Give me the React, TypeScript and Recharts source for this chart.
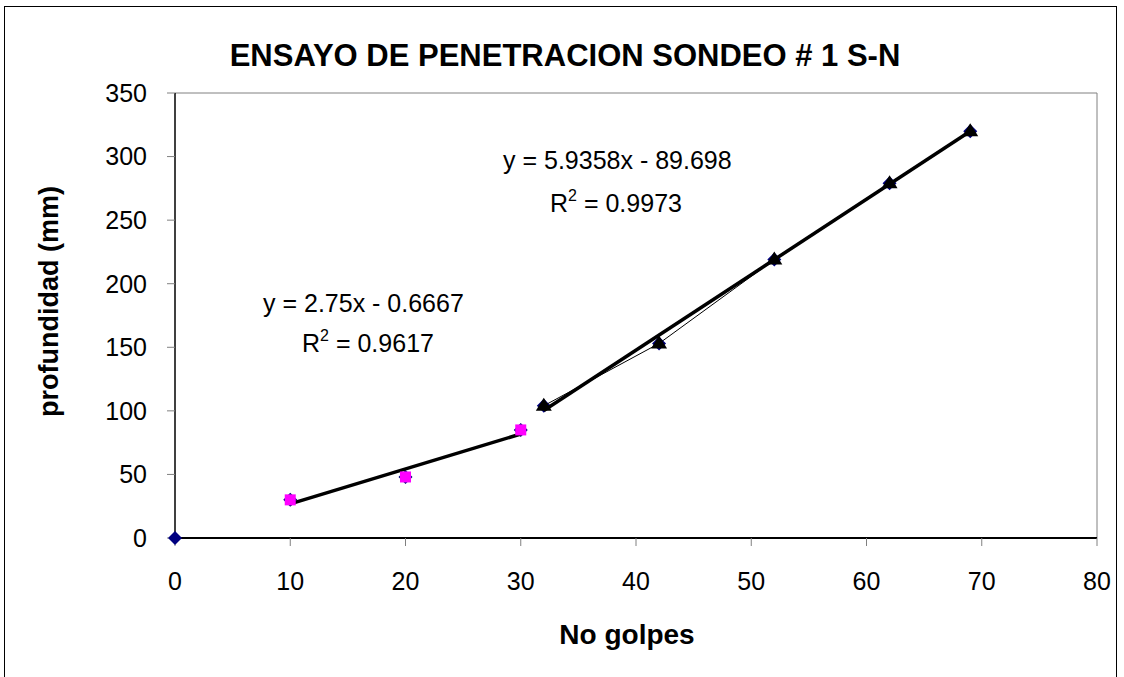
import React from "react";
import {
  ScatterChart,
  Scatter,
  XAxis,
  YAxis,
  ReferenceLine,
} from "recharts";

// all readings (navy diamonds)
const allPoints = [
  { x: 0, y: 0 },
  { x: 10, y: 30 },
  { x: 20, y: 48 },
  { x: 30, y: 85 },
  { x: 32, y: 104 },
  { x: 42, y: 153 },
  { x: 52, y: 219 },
  { x: 62, y: 279 },
  { x: 69, y: 320 },
];

// first stretch (magenta squares)
const tramo1 = [
  { x: 10, y: 30 },
  { x: 20, y: 48 },
  { x: 30, y: 85 },
];

// second stretch (black triangles, thin line)
const tramo2 = [
  { x: 32, y: 104 },
  { x: 42, y: 153 },
  { x: 52, y: 219 },
  { x: 62, y: 279 },
  { x: 69, y: 320 },
];

// trendline coefficients as printed on the chart
const fit1 = { m: 2.75, b: -0.6667, r2: "0.9617", label: "y = 2.75x - 0.6667" };
const fit2 = { m: 5.9358, b: -89.698, r2: "0.9973", label: "y = 5.9358x - 89.698" };

const xTicks = [0, 10, 20, 30, 40, 50, 60, 70, 80];
const yTicks = [0, 50, 100, 150, 200, 250, 300, 350];

const trend = (pts: { x: number }[], f: { m: number; b: number }) => {
  const xs = pts.map((p) => p.x);
  const x0 = Math.min(...xs);
  const x1 = Math.max(...xs);
  return [
    { x: x0, y: f.m * x0 + f.b },
    { x: x1, y: f.m * x1 + f.b },
  ];
};

const FONT = '"Liberation Sans", Arial, sans-serif';

const Diamond = (p: any) => {
  const { cx, cy } = p;
  const r = 7;
  return (
    <polygon
      points={`${cx},${cy - r} ${cx + r},${cy} ${cx},${cy + r} ${cx - r},${cy}`}
      fill="#000080"
    />
  );
};

const Square = (p: any) => {
  const { cx, cy } = p;
  const s = 11;
  return <rect x={cx - s / 2} y={cy - s / 2} width={s} height={s} fill="#ff00ff" />;
};

const Triangle = (p: any) => {
  const { cx, cy } = p;
  return (
    <polygon
      points={`${cx},${cy - 8} ${cx + 8},${cy + 5} ${cx - 8},${cy + 5}`}
      fill="#000"
    />
  );
};

const NoMark = () => <g />;

const sup = { fontSize: 16, position: "relative" as const, top: -11 };

export default function App() {
  const textBase: React.CSSProperties = {
    position: "absolute",
    fontFamily: FONT,
    color: "#000",
    whiteSpace: "nowrap",
  };

  return (
    <div style={{ position: "absolute", left: 0, top: 0, width: 1124, height: 677, background: "#fff", overflow: "hidden" }}>
      <div
        style={{
          position: "absolute",
          left: 4,
          top: 6,
          width: 1111,
          height: 700,
          border: "1px solid #000",
        }}
      />
      <ScatterChart
        width={1124}
        height={677}
        margin={{ top: 93, right: 27, bottom: 89, left: 75 }}
        style={{ position: "absolute", left: 0, top: 0 }}
      >
        <XAxis
          type="number"
          dataKey="x"
          domain={[0, 80]}
          ticks={xTicks}
          interval={0}
          height={50}
          tickSize={8}
          tickMargin={26}
          axisLine={{ stroke: "#000", strokeWidth: 2 }}
          tickLine={{ stroke: "#808080" }}
          tick={{ fill: "#000", fontSize: 25, fontFamily: FONT }}
        />
        <YAxis
          type="number"
          dataKey="y"
          domain={[0, 350]}
          ticks={yTicks}
          interval={0}
          width={100}
          tickSize={8}
          tickMargin={20}
          axisLine={{ stroke: "#000", strokeWidth: 1.5 }}
          tickLine={{ stroke: "#808080" }}
          tick={{ fill: "#000", fontSize: 25, fontFamily: FONT }}
        />
        <ReferenceLine y={350} stroke="#808080" strokeWidth={1} />
        <ReferenceLine x={80} stroke="#808080" strokeWidth={1} />
        <Scatter data={allPoints} shape={Diamond} isAnimationActive={false} />
        <Scatter
          data={trend(tramo1, fit1)}
          shape={NoMark}
          line={{ stroke: "#000", strokeWidth: 3.5 }}
          isAnimationActive={false}
        />
        <Scatter
          data={trend(tramo2, fit2)}
          shape={NoMark}
          line={{ stroke: "#000", strokeWidth: 3.5 }}
          isAnimationActive={false}
        />
        <Scatter data={tramo1} shape={Square} isAnimationActive={false} />
        <Scatter
          data={tramo2}
          shape={Triangle}
          line={{ stroke: "#000", strokeWidth: 1 }}
          isAnimationActive={false}
        />
      </ScatterChart>

      <div style={{ ...textBase, left: 0, width: 1130, top: 40, textAlign: "center", fontSize: 31, lineHeight: "31px", fontWeight: "bold" }}>
        ENSAYO DE PENETRACION SONDEO # 1 S-N
      </div>

      <div style={{ ...textBase, left: 477, width: 300, top: 621, textAlign: "center", fontSize: 28, lineHeight: "28px", fontWeight: "bold" }}>
        No golpes
      </div>

      <div
        style={{
          ...textBase,
          left: 49 - 150,
          top: 301 - 13.5,
          width: 300,
          textAlign: "center",
          fontSize: 27,
          lineHeight: "27px",
          fontWeight: "bold",
          transform: "rotate(-90deg)",
          transformOrigin: "50% 50%",
        }}
      >
        profundidad (mm)
      </div>

      <div style={{ ...textBase, left: 263, top: 291, fontSize: 25, lineHeight: "25px" }}>{fit1.label}</div>
      <div style={{ ...textBase, left: 302, top: 331, fontSize: 25, lineHeight: "25px" }}>
        R<span style={sup}>2</span> = {fit1.r2}
      </div>

      <div style={{ ...textBase, left: 503, top: 148, fontSize: 25, lineHeight: "25px" }}>{fit2.label}</div>
      <div style={{ ...textBase, left: 550, top: 191, fontSize: 25, lineHeight: "25px" }}>
        R<span style={sup}>2</span> = {fit2.r2}
      </div>
    </div>
  );
}
